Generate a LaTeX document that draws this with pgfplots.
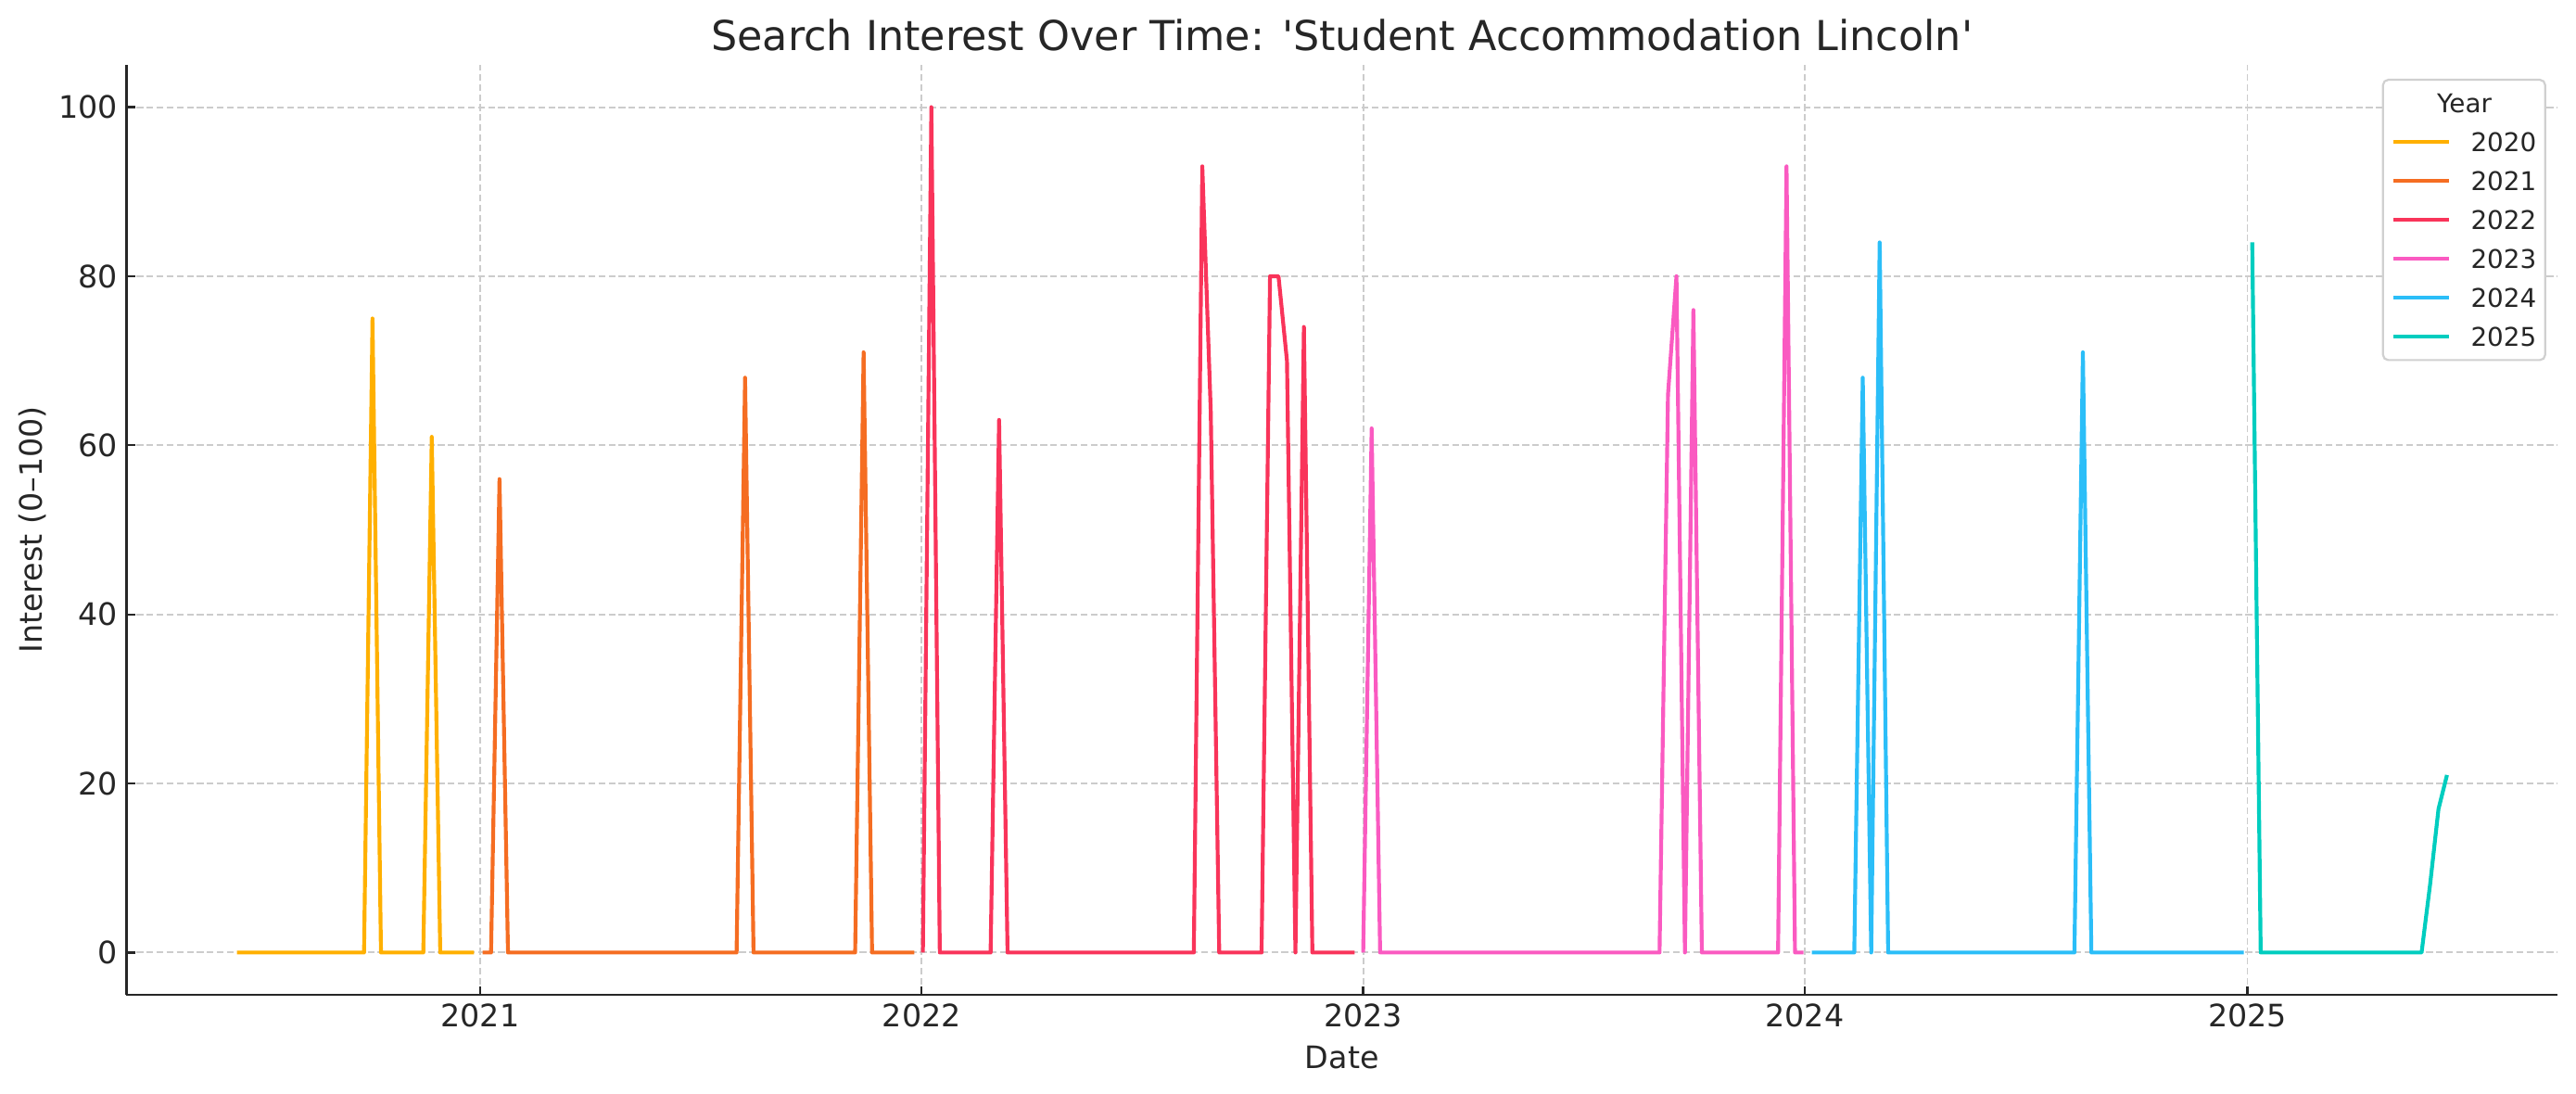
\documentclass[border=0pt]{standalone}
\usepackage{fontspec}
\setmainfont{DejaVu Sans}
\usepackage{pgfplots}
\pgfplotsset{compat=1.18}

\definecolor{c2020}{HTML}{FFB000}
\definecolor{c2021}{HTML}{F56D22}
\definecolor{c2022}{HTML}{F9345A}
\definecolor{c2023}{HTML}{FA5AC1}
\definecolor{c2024}{HTML}{2BBEF8}
\definecolor{c2025}{HTML}{00CDBF}
\definecolor{tcol}{HTML}{262626}
\definecolor{gridc}{HTML}{CCCCCC}
\definecolor{lgray}{HTML}{D0D0D0}

% x = days since 2021-01-01, one point per week (runs of zeros kept by their ends)
\begin{document}
\begin{tikzpicture}
\path[use as bounding box] (0,0) rectangle (1000.44pt,424.8pt);
\begin{axis}[
  at={(49.14pt,38.52pt)}, anchor=south west,
  scale only axis, width=944.1pt, height=361.08pt,
  xmin=-292.35, xmax=1717.35, ymin=-5, ymax=105,
  xtick={0,365,730,1095,1461},
  xticklabels={2021,2022,2023,2024,2025},
  ytick={0,20,40,60,80,100},
  /pgf/number format/assume math mode=true,
  ticklabel style={font=\fontsize{12}{14}\selectfont, text=tcol},
  axis x line*=bottom, axis y line*=left,
  every outer x axis line/.append style={-},
  every outer y axis line/.append style={-},
  axis line style={-, line width=0.8pt, draw=tcol},
  tick pos=left, tick align=inside, major tick length=3.4pt,
  tick style={line width=0.8pt, draw=tcol},
  grid=major,
  major grid style={dash pattern=on 2.6pt off 1.3pt, line width=0.7pt, draw=gridc},
  every axis title/.style={at={(axis description cs:0.5,1)}, anchor=base, yshift=5.4pt,
    inner sep=0pt, font=\fontsize{16}{19}\selectfont, text=tcol},
  title={Search Interest Over Time: \textquotesingle Student Accommodation Lincoln\textquotesingle},
  every axis x label/.style={at={(axis description cs:0.5,0)}, anchor=base, yshift=-28.8pt,
    inner sep=0pt, font=\fontsize{12}{14}\selectfont, text=tcol},
  every axis y label/.style={at={(axis description cs:-0.03464,0.5)}, rotate=90, anchor=base,
    inner sep=0pt, font=\fontsize{12}{14}\selectfont, text=tcol},
  xlabel={Date},
  ylabel={Interest (0–100)},
  legend style={at={(1,1)}, anchor=north east, xshift=-4.4pt, yshift=-5.4pt,
    draw=lgray, line width=0.8pt, rounded corners=2pt, fill=white,
    font=\fontsize{10}{12}\selectfont, text=tcol,
    inner xsep=3.4pt, inner ysep=5.4pt, row sep=7.82pt, column sep=7.6pt,
    nodes={inner sep=0pt, text height=7.3pt, text depth=0pt},
    cells={anchor=west}},
  legend image code/.code={\draw[#1, rounded corners=0pt] (0pt,0pt) -- (21.6pt,0pt);},
  every axis plot/.append style={line width=1.5pt, line join=round},
]
\addlegendimage{empty legend}
\addlegendentry{\hspace*{-13.1pt}Year}

\addplot[c2020] coordinates {(-201,0) (-96,0) (-89,75) (-82,0) (-47,0) (-40,61) (-33,0) (-5,0)};
\addlegendentry{2020}
\addplot[c2021] coordinates {(2,0) (9,0) (16,56) (23,0) (212,0) (219,68) (226,0)
  (310,0) (317,71) (324,0) (359,0)};
\addlegendentry{2021}
\addplot[c2022] coordinates {(366,0) (373,100) (380,0) (422,0) (429,63) (436,0)
  (590,0) (597,93) (604,64) (611,0) (646,0) (653,80) (660,80) (667,70) (674,0)
  (681,74) (688,0) (723,0)};
\addlegendentry{2022}
\addplot[c2023] coordinates {(730,0) (737,62) (744,0) (975,0) (982,66) (989,80)
  (996,0) (1003,76) (1010,0) (1073,0) (1080,93) (1087,0) (1094,0)};
\addlegendentry{2023}
\addplot[c2024] coordinates {(1101,0) (1136,0) (1143,68) (1150,0) (1157,84) (1164,0)
  (1318,0) (1325,71) (1332,0) (1458,0)};
\addlegendentry{2024}
\addplot[c2025] coordinates {(1465,84) (1472,0) (1605,0) (1612,8) (1619,17) (1626,21)};
\addlegendentry{2025}
\end{axis}
\end{tikzpicture}
\end{document}
